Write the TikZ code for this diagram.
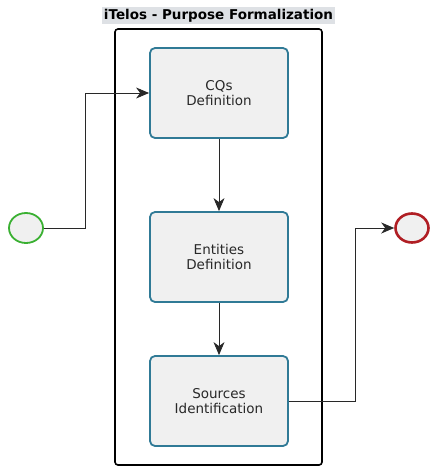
\documentclass[tikz,border=0pt]{standalone}
\usepackage{fontspec}
\setmainfont{DejaVu Sans}
\usetikzlibrary{positioning,arrows.meta,shapes.geometric}
\definecolor{TaskBlue}{RGB}{48,122,150}
\definecolor{TaskFill}{RGB}{240,240,240}
\definecolor{StartGreen}{RGB}{58,176,50}
\definecolor{EndRed}{RGB}{176,30,36}
\definecolor{TitleBand}{RGB}{222,225,229}
\definecolor{InkGray}{RGB}{40,40,40}
\tikzset{
  flow/.style={-{Stealth[length=13pt,width=11pt,inset=4pt]},line width=0.9pt,draw=InkGray},
  task/.style={draw=TaskBlue,fill=TaskFill,line width=1.8pt,rounded corners=5pt,
    minimum width=138pt,minimum height=90pt,align=center,text=InkGray,
    font=\fontsize{13.5}{15}\selectfont},
  startev/.style={ellipse,draw=StartGreen,fill=TaskFill,line width=1.8pt,
    minimum width=34pt,minimum height=30pt,inner sep=0pt},
  endev/.style={ellipse,draw=EndRed,fill=TaskFill,line width=2.6pt,
    minimum width=33pt,minimum height=29pt,inner sep=0pt},
  pool/.style={draw=black,line width=1.6pt,rounded corners=3pt,
    minimum width=207pt,minimum height=436pt},
  pooltitle/.style={fill=TitleBand,inner sep=1.5pt,
    font=\bfseries\fontsize{13.5}{15}\selectfont}
}

\begin{document}
\begin{tikzpicture}[x=1pt,y=1pt]
  \useasboundingbox (0,0) rectangle (430,-466);
  % pool and its title
  \node[pool] (lane) at (218.5,-247) {};
  \node[pooltitle] (title) at (218.5,-15.5) {iTelos - Purpose Formalization};
  % tasks
  \node[task] (cqs) at (219,-93) {CQs\\Definition};
  \node[task] (ent) at (219,-257) {Entities\\Definition};
  \node[task] (src) at (219,-401) {Sources\\Identification};
  % events
  \node[startev] (start) at (26,-228) {};
  \node[endev] (stop) at (412,-228) {};
  \coordinate (a1) at (85,-228);
  \coordinate (a2) at (a1 |- cqs.west);
  \coordinate (b2) at (355,-228);
  \coordinate (b1) at (b2 |- src.east);
  \draw[flow] (start.east) -- (a1) -- (a2) -- (cqs.west);
  \draw[flow] (cqs) -- (ent);
  \draw[flow] (ent) -- (src);
  \draw[flow] (src.east) -- (b1) -- (b2) -- (stop.west);
\end{tikzpicture}
\end{document}
